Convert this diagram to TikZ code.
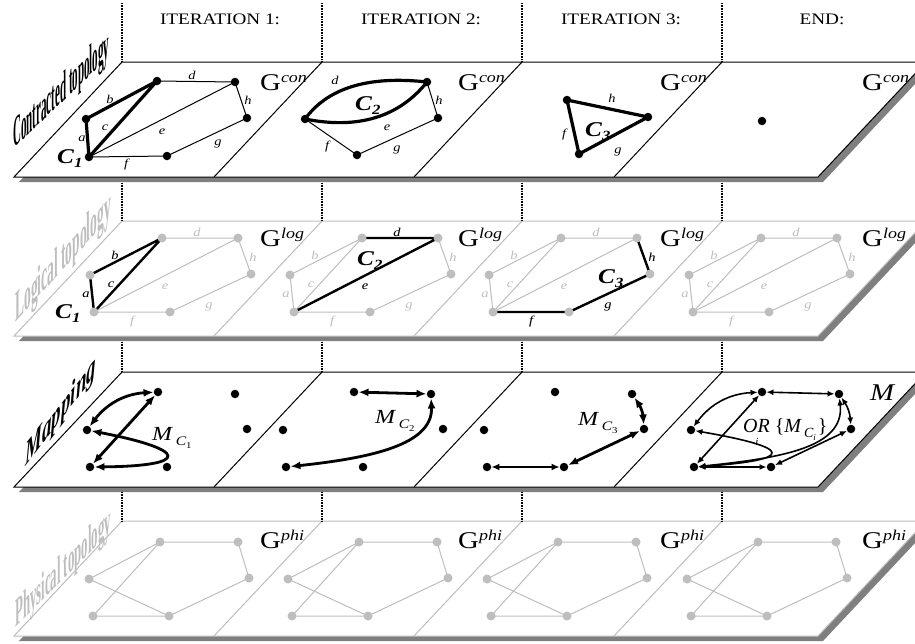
\documentclass[tikz,border=0pt]{standalone}
\usepackage{fontspec}
\setmainfont{Liberation Serif}
\usepackage{graphicx}
\usetikzlibrary{arrows.meta}
\definecolor{lg}{HTML}{BEBEBE}
\definecolor{shd}{HTML}{7F7F7F}
\newcommand{\wx}[1]{\scalebox{1.2}[1]{#1}}
\newcommand{\fs}[1]{\fontsize{#1}{#1}\selectfont}
\newcommand{\Glab}[1]{\wx{\fs{24}G\raisebox{7.5pt}{\fs{15}\itshape #1}}}
\newcommand{\Clab}[1]{\wx{\fs{21}\bfseries\itshape C\raisebox{-4pt}{\fs{14}#1}}}
\newcommand{\el}[1]{\wx{\fs{12}\itshape #1}}
\newcommand{\Msub}[1]{\wx{\fs{20}\itshape M\hspace{3pt}\raisebox{-5pt}{\fs{13}C\raisebox{-3pt}{\fs{9}\upshape #1}}}}
\pgfdeclarelayer{planes}
\pgfdeclarelayer{edges}
\pgfsetlayers{planes,edges,main}
\tikzset{
 bdot/.style={circle, fill=black, inner sep=0pt, minimum size=8.5pt},
 gdot/.style={circle, fill=lg, inner sep=0pt, minimum size=9pt},
 thk/.style={black, line width=3.2pt, line join=round, line cap=round},
 thn/.style={black, line width=1pt},
 gedge/.style={lg, line width=1pt},
 bedge/.style={black, line width=2.4pt},
 lbl/.style={inner sep=0pt},
 side/.style={inner sep=0pt, anchor=base west, transform shape},
 dotl/.style={black, line width=1.6pt, dash pattern=on 0.8pt off 0.8pt},
 dbl/.style={{Latex[length=10pt,width=8pt]}-{Latex[length=10pt,width=8pt]}, line width=2.8pt},
 dbm/.style={{Latex[length=8pt,width=7pt]}-{Latex[length=8pt,width=7pt]}, line width=2pt},
 dbt/.style={{Latex[length=7pt,width=6pt]}-{Latex[length=7pt,width=6pt]}, line width=1.6pt},
}
\newcommand{\plane}[2]{%
 \fill[shd] (19,#1+120) -- (823,#1+120) -- (931,#1+5) -- (127,#1+5) -- cycle;
 \filldraw[fill=white, draw=#2, line width=1pt] (14,#1+115) -- (818,#1+115) -- (926,#1) -- (122,#1) -- cycle;
 \foreach \k in {0,1,2} {\draw[#2, line width=1pt] ({322+200*\k},#1) -- ({214+200*\k},#1+115);}
}
\begin{document}
\begin{tikzpicture}[x=1pt,y=-1pt]
\useasboundingbox (0,0) rectangle (915,643);
\clip (0,0) rectangle (915,643);
\begin{pgfonlayer}{planes}
\plane{62}{black}
\plane{221}{lg}
\plane{372}{black}
\plane{521}{lg}
\foreach \x in {122,322,522,722} {
  \foreach \a/\b in {3/62,183/221,342/372,492/521} {\draw[dotl] (\x,\a) -- (\x,\b);}
}
\end{pgfonlayer}

% headers
\node[lbl, anchor=base] (h1) at (220,24) {\wx{\fs{16}ITERATION 1:}};
\node[lbl, anchor=base] (h2) at (421,24) {\wx{\fs{16}ITERATION 2:}};
\node[lbl, anchor=base] (h3) at (621,24) {\wx{\fs{16}ITERATION 3:}};
\node[lbl, anchor=base] (h4) at (822,24) {\wx{\fs{16}END:}};

% side labels (sheared text: baseline along the plane edge, letters upright)
\begin{scope}[shift={(13,149)}, yslant=0.95, xscale=1.1, yscale=4.3]
\node[side] (sC) at (0,0) {\fs{10}\bfseries Contracted topology};
\end{scope}
\begin{scope}[shift={(15,323)}, yslant=1.1, xscale=1.35, yscale=4.3]
\node[side, text=lg] (sL) at (0,0) {\fs{10}\bfseries Logical topology};
\end{scope}
\begin{scope}[shift={(25,467)}, yslant=1.3, xscale=1.9, yscale=3.3]
\node[side] (sM) at (0,0) {\fs{10}\bfseries\itshape Mapping};
\end{scope}
\begin{scope}[shift={(15,628)}, yslant=1.0, xscale=1.28, yscale=4.0]
\node[side, text=lg] (sP) at (0,0) {\fs{10}\bfseries Physical topology};
\end{scope}

% G labels
\foreach \j/\gx in {0/260,1/458,2/660,3/862} {
  \node[lbl, anchor=base west] (Gc\j) at (\gx,90) {\Glab{con}};
  \node[lbl, anchor=base west] (Gl\j) at (\gx,246) {\Glab{log}};
  \node[lbl, anchor=base west] (Gp\j) at (\gx,548) {\Glab{phi}};
}
\node[lbl, anchor=base west] (Mall) at (870,400) {\wx{\fs{24}\itshape M}};

% ===== Layer 1: contracted topology =====
\node[bdot] (A1) at (86,119) {};
\node[bdot] (A2) at (157,81) {};
\node[bdot] (A3) at (235,82) {};
\node[bdot] (A4) at (247,118) {};
\node[bdot] (A5) at (167,156) {};
\node[bdot] (A6) at (89,157) {};
\node[bdot] (B1) at (305,119) {};
\node[bdot] (B3) at (427,82) {};
\node[bdot] (B4) at (438,118) {};
\node[bdot] (B5) at (357,155) {};
\node[bdot] (T1) at (567,100) {};
\node[bdot] (T2) at (648,117) {};
\node[bdot] (T3) at (579,154) {};
\node[bdot] (E1) at (762,121) {};
\begin{pgfonlayer}{edges}
\draw[thn] (A2.center) -- (A3.center) (A6.center) -- (A3.center) (A3.center) -- (A4.center) (A4.center) -- (A5.center) (A5.center) -- (A6.center);
\draw[thk] (A1.center) -- (A2.center) -- (A6.center) -- cycle;
\draw[thn] (B3.center) -- (B4.center) -- (B5.center) -- (B1.center);
\draw[thk] (B1.center) .. controls (335,78) and (390,78) .. (B3.center);
\draw[thk] (B1.center) .. controls (350,128) and (395,122) .. (B3.center);
\draw[thk] (T1.center) -- (T2.center) -- (T3.center) -- cycle;
\end{pgfonlayer}
\node[lbl] (la1) at (82,139) {\el{a}};
\node[lbl] (lb1) at (110,99) {\el{b}};
\node[lbl] (lc1) at (105,128) {\el{c}};
\node[lbl] (ld1) at (192,75) {\el{d}};
\node[lbl] (le1) at (162,132) {\el{e}};
\node[lbl] (lf1) at (126,165) {\el{f}};
\node[lbl] (lg1) at (218,144) {\el{g}};
\node[lbl] (lh1) at (248,100) {\el{h}};
\node[lbl, anchor=base west] (C1a) at (57,163) {\Clab{1}};
\node[lbl] (ld2) at (335,80) {\el{d}};
\node[lbl] (le2) at (387,128) {\el{e}};
\node[lbl] (lf2) at (327,147) {\el{f}};
\node[lbl] (lg2) at (397,150) {\el{g}};
\node[lbl] (lh2) at (439,100) {\el{h}};
\node[lbl, anchor=base west] (C2a) at (355,110) {\Clab{2}};
\node[lbl] (lh3) at (612,98) {\el{h}};
\node[lbl] (lf3) at (564,135) {\el{f}};
\node[lbl] (lg3) at (618,152) {\el{g}};
\node[lbl, anchor=base west] (C3a) at (585,136) {\Clab{3}};

% ===== Layer 2: logical topology =====
\foreach \j/\ox in {0/0,1/200,2/399,3/599} {
  \node[gdot] (L\j p1) at (90+\ox,275) {};
  \node[gdot] (L\j p2) at (162+\ox,238) {};
  \node[gdot] (L\j p3) at (238+\ox,238) {};
  \node[gdot] (L\j p4) at (251+\ox,274) {};
  \node[gdot] (L\j p5) at (170+\ox,312) {};
  \node[gdot] (L\j p6) at (94+\ox,312) {};
  \begin{pgfonlayer}{edges}
  \draw[gedge] (L\j p1.center) -- (L\j p6.center) (L\j p1.center) -- (L\j p2.center)
     (L\j p6.center) -- (L\j p2.center) (L\j p2.center) -- (L\j p3.center)
     (L\j p6.center) -- (L\j p3.center) (L\j p3.center) -- (L\j p4.center)
     (L\j p5.center) -- (L\j p4.center) (L\j p6.center) -- (L\j p5.center);
  \end{pgfonlayer}
  \node[lbl, text=lg] (Lla\j) at (86+\ox,295) {\el{a}};
  \node[lbl, text=lg] (Llb\j) at (115+\ox,255) {\el{b}};
  \node[lbl, text=lg] (Llc\j) at (111+\ox,285) {\el{c}};
  \node[lbl, text=lg] (Lld\j) at (197+\ox,232) {\el{d}};
  \node[lbl, text=lg] (Lle\j) at (165+\ox,287) {\el{e}};
  \node[lbl, text=lg] (Llf\j) at (132+\ox,322) {\el{f}};
  \node[lbl, text=lg] (Llg\j) at (209+\ox,307) {\el{g}};
  \node[lbl, text=lg] (Llh\j) at (253+\ox,257) {\el{h}};
}
\begin{pgfonlayer}{edges}
\draw[bedge] (L0p1.center) -- (L0p6.center) (L0p1.center) -- (L0p2.center) (L0p6.center) -- (L0p2.center);
\draw[bedge] (L1p2.center) -- (L1p3.center) (L1p6.center) -- (L1p3.center);
\draw[bedge] (L2p6.center) -- (L2p5.center) (L2p5.center) -- (L2p4.center) (L2p3.center) -- (L2p4.center);
\end{pgfonlayer}
\node[lbl] (Ka) at (86,295) {\el{a}};
\node[lbl] (Kb) at (115,255) {\el{b}};
\node[lbl] (Kc) at (111,285) {\el{c}};
\node[lbl] (Kd) at (397,232) {\el{d}};
\node[lbl] (Ke) at (365,287) {\el{e}};
\node[lbl] (Kf) at (531,322) {\el{f}};
\node[lbl] (Kg) at (608,307) {\el{g}};
\node[lbl] (Kh) at (652,257) {\el{h}};
\node[lbl, anchor=base west] (C1b) at (55,318) {\Clab{1}};
\node[lbl, anchor=base west] (C2b) at (357,265) {\Clab{2}};
\node[lbl, anchor=base west] (C3b) at (598,283) {\Clab{3}};

% ===== Layer 3: mapping =====
\foreach \j/\ox in {0/0,1/196,2/397,3/604} {
  \node[bdot] (M\j p1) at (87+\ox,430) {};
  \node[bdot] (M\j p2) at (158+\ox,392) {};
  \node[bdot] (M\j p3) at (235+\ox,394) {};
  \node[bdot] (M\j p4) at (247+\ox,429) {};
  \node[bdot] (M\j p5) at (167+\ox,467) {};
  \node[bdot] (M\j p6) at (90+\ox,467) {};
}
% column 1
\draw[dbl] (M0p1) to[bend left=25] (M0p2);
\draw[dbl] (M0p6) -- (M0p2);
\draw[dbl] (M0p1) .. controls (190,450) and (190,466) .. (M0p6);
% column 2
\draw[dbl] (M1p2) -- (M1p3);
\draw[dbl] (M1p6) .. controls (370,458) and (433,445) .. (M1p3);
% column 3
\draw[dbl] (M2p3) to[bend left=15] (M2p4);
\draw[dbl] (M2p4) -- (M2p5);
\draw[dbm] (M2p6) -- (M2p5);
% column 4
\draw[dbt] (M3p2) -- (M3p3);
\draw[dbt] (M3p3) to[bend left=15] (M3p4);
\draw[dbt] (M3p1) to[bend left=25] (M3p2);
\draw[dbt] (M3p6) -- (M3p2);
\draw[dbt] (M3p1) .. controls (795,448) and (795,460) .. (M3p6);
\draw[dbt] (M3p6) -- (M3p5);
\draw[dbt] (M3p5) -- (M3p4);
\draw[dbt] (M3p6) .. controls (780,458) and (845,448) .. (M3p3);
\node[lbl, anchor=base west] (MC1) at (152,440) {\Msub{1}};
\node[lbl, anchor=base west] (MC2) at (375,423) {\Msub{2}};
\node[lbl, anchor=base west] (MC3) at (578,425) {\Msub{3}};
\node[lbl, anchor=base west] (ORl) at (743,432) {\fs{20}\itshape OR\hspace{5pt}\upshape\{\itshape M\hspace{3pt}\raisebox{-5pt}{\fs{14}C\raisebox{-3pt}{\fs{9}i}}\hspace{2pt}\upshape\}};
\node[lbl] (ORi) at (757,442) {\fs{11}\itshape i};

% ===== Layer 4: physical topology =====
\foreach \j/\ox in {0/0,1/199,2/398,3/598} {
  \node[gdot] (P\j p1) at (89+\ox,579) {};
  \node[gdot] (P\j p2) at (160+\ox,542) {};
  \node[gdot] (P\j p3) at (238+\ox,542) {};
  \node[gdot] (P\j p4) at (249+\ox,578) {};
  \node[gdot] (P\j p5) at (169+\ox,616) {};
  \node[gdot] (P\j p6) at (93+\ox,616) {};
  \begin{pgfonlayer}{edges}
  \draw[gedge] (P\j p1.center) -- (P\j p2.center) (P\j p2.center) -- (P\j p3.center)
     (P\j p3.center) -- (P\j p4.center) (P\j p4.center) -- (P\j p5.center)
     (P\j p5.center) -- (P\j p6.center) (P\j p6.center) -- (P\j p2.center)
     (P\j p1.center) -- (P\j p5.center);
  \end{pgfonlayer}
}
\end{tikzpicture}
\end{document}
